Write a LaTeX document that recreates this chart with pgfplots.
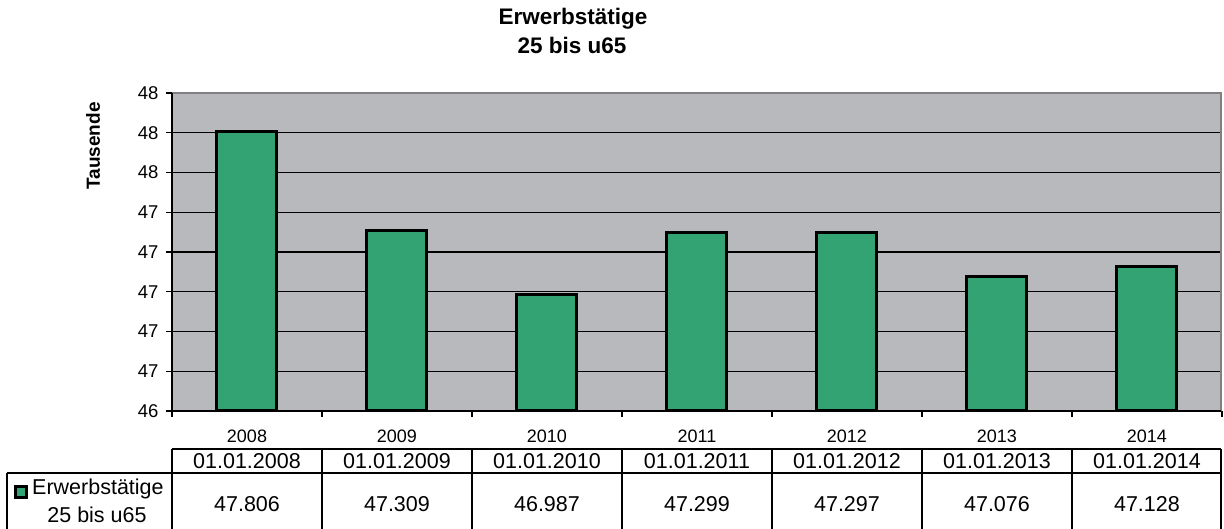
\documentclass[border=0pt]{standalone}
\usepackage{pgfplots}
\pgfplotsset{compat=1.18}
\usepackage{pgfplotstable}
\usepackage{fontspec}
\setmainfont{Liberation Sans}
\definecolor{bargreen}{RGB}{51,163,116}
\definecolor{plotbg}{RGB}{184,185,189}
\definecolor{framegray}{RGB}{128,128,128}
\pgfplotstableread{
x year date value
0 2008 01.01.2008 47.806
1 2009 01.01.2009 47.309
2 2010 01.01.2010 46.987
3 2011 01.01.2011 47.299
4 2012 01.01.2012 47.297
5 2013 01.01.2013 47.076
6 2014 01.01.2014 47.128
}\data
\begin{document}
\begin{tikzpicture}[x=1pt,y=1pt]
\useasboundingbox (-172,-118) rectangle (1052,411);
\pgfplotsset{common/.style={at={(0,0)}, anchor=south west, scale only axis,
  width=1050pt, height=318pt, xmin=-0.5, xmax=6.5, ymin=46.4, ymax=48.0}}
\begin{axis}[common,
  axis background/.style={fill=plotbg},
  axis line style={draw=none},
  xtick={-0.5,0.5,1.5,2.5,3.5,4.5,5.5,6.5}, xticklabels={},
  ytick={46.4,46.6,46.8,47.0,47.2,47.4,47.6,47.8,48.0},
  yticklabel={\pgfmathprintnumber[fixed,precision=0]{\tick}},
  /pgf/number format/assume math mode=true,
  tick align=outside, tick pos=left, major tick length=6pt,
  tick style={black, line width=1.2pt},
  ymajorgrids, major grid style={black, line width=1.4pt},
  yticklabel style={font=\fontsize{18.5}{20}\selectfont, anchor=east, xshift=-4pt},
]
\addplot[ybar, bar width=60pt, fill=bargreen, draw=black, line width=3pt] table[x=x, y=value] {\data};
\end{axis}
\begin{axis}[common, hide axis, clip=false]
\addplot[draw=none, nodes near coords={\pgfplotspointmeta}, point meta=explicit symbolic,
  every node near coord/.append style={anchor=center, inner sep=0pt, font=\fontsize{18}{20}\selectfont}]
  table[x=x, y expr=46.274, meta=year] {\data};
\addplot[draw=none, nodes near coords={\pgfplotspointmeta}, point meta=explicit symbolic,
  every node near coord/.append style={anchor=center, inner sep=0pt, font=\fontsize{21.5}{24}\selectfont}]
  table[x=x, y expr=46.148, meta=date] {\data};
\addplot[draw=none, nodes near coords={\pgfplotspointmeta}, point meta=explicit symbolic,
  every node near coord/.append style={anchor=center, inner sep=0pt, font=\fontsize{21.5}{24}\selectfont}]
  table[x=x, y expr=45.932, meta=value] {\data};
\end{axis}
% plot frame
\draw[framegray, line width=2pt] (0,318) -- (1049,318) -- (1049,0);
\draw[black, line width=1.4pt] (0,318) -- (0,0) -- (1049,0);
% data table grid
\draw[black, line width=1.2pt] (0,-38) -- (1049,-38);
\draw[black, line width=1.2pt] (-165,-62) -- (1049,-62);
\draw[black, line width=1.2pt] (-165,-62) -- (-165,-118);
\foreach \i in {0,1,2,3,4,5,6} \draw[black, line width=1.2pt] (\i*150,-38) -- (\i*150,-118);
\draw[black, line width=1.2pt] (1049,-38) -- (1049,-118);
% legend key cell
\draw[fill=bargreen, line width=2.2pt] (-156.5,-86.5) rectangle (-145.5,-75.5);
\node[anchor=west, inner sep=0pt, font=\fontsize{21.5}{24}\selectfont] at (-140,-78) {Erwerbstätige};
\node[anchor=center, inner sep=0pt, font=\fontsize{21.5}{24}\selectfont] at (-75,-104) {25 bis u65};
% titles
\node[anchor=center, font=\bfseries\fontsize{22.5}{26}\selectfont] at (401,392) {Erwerbstätige};
\node[anchor=center, font=\bfseries\fontsize{22.5}{26}\selectfont] at (400,366) {25 bis u65};
\node[anchor=center, rotate=90, font=\bfseries\fontsize{19}{22}\selectfont] at (-79,265) {Tausende};
\end{tikzpicture}
\end{document}
